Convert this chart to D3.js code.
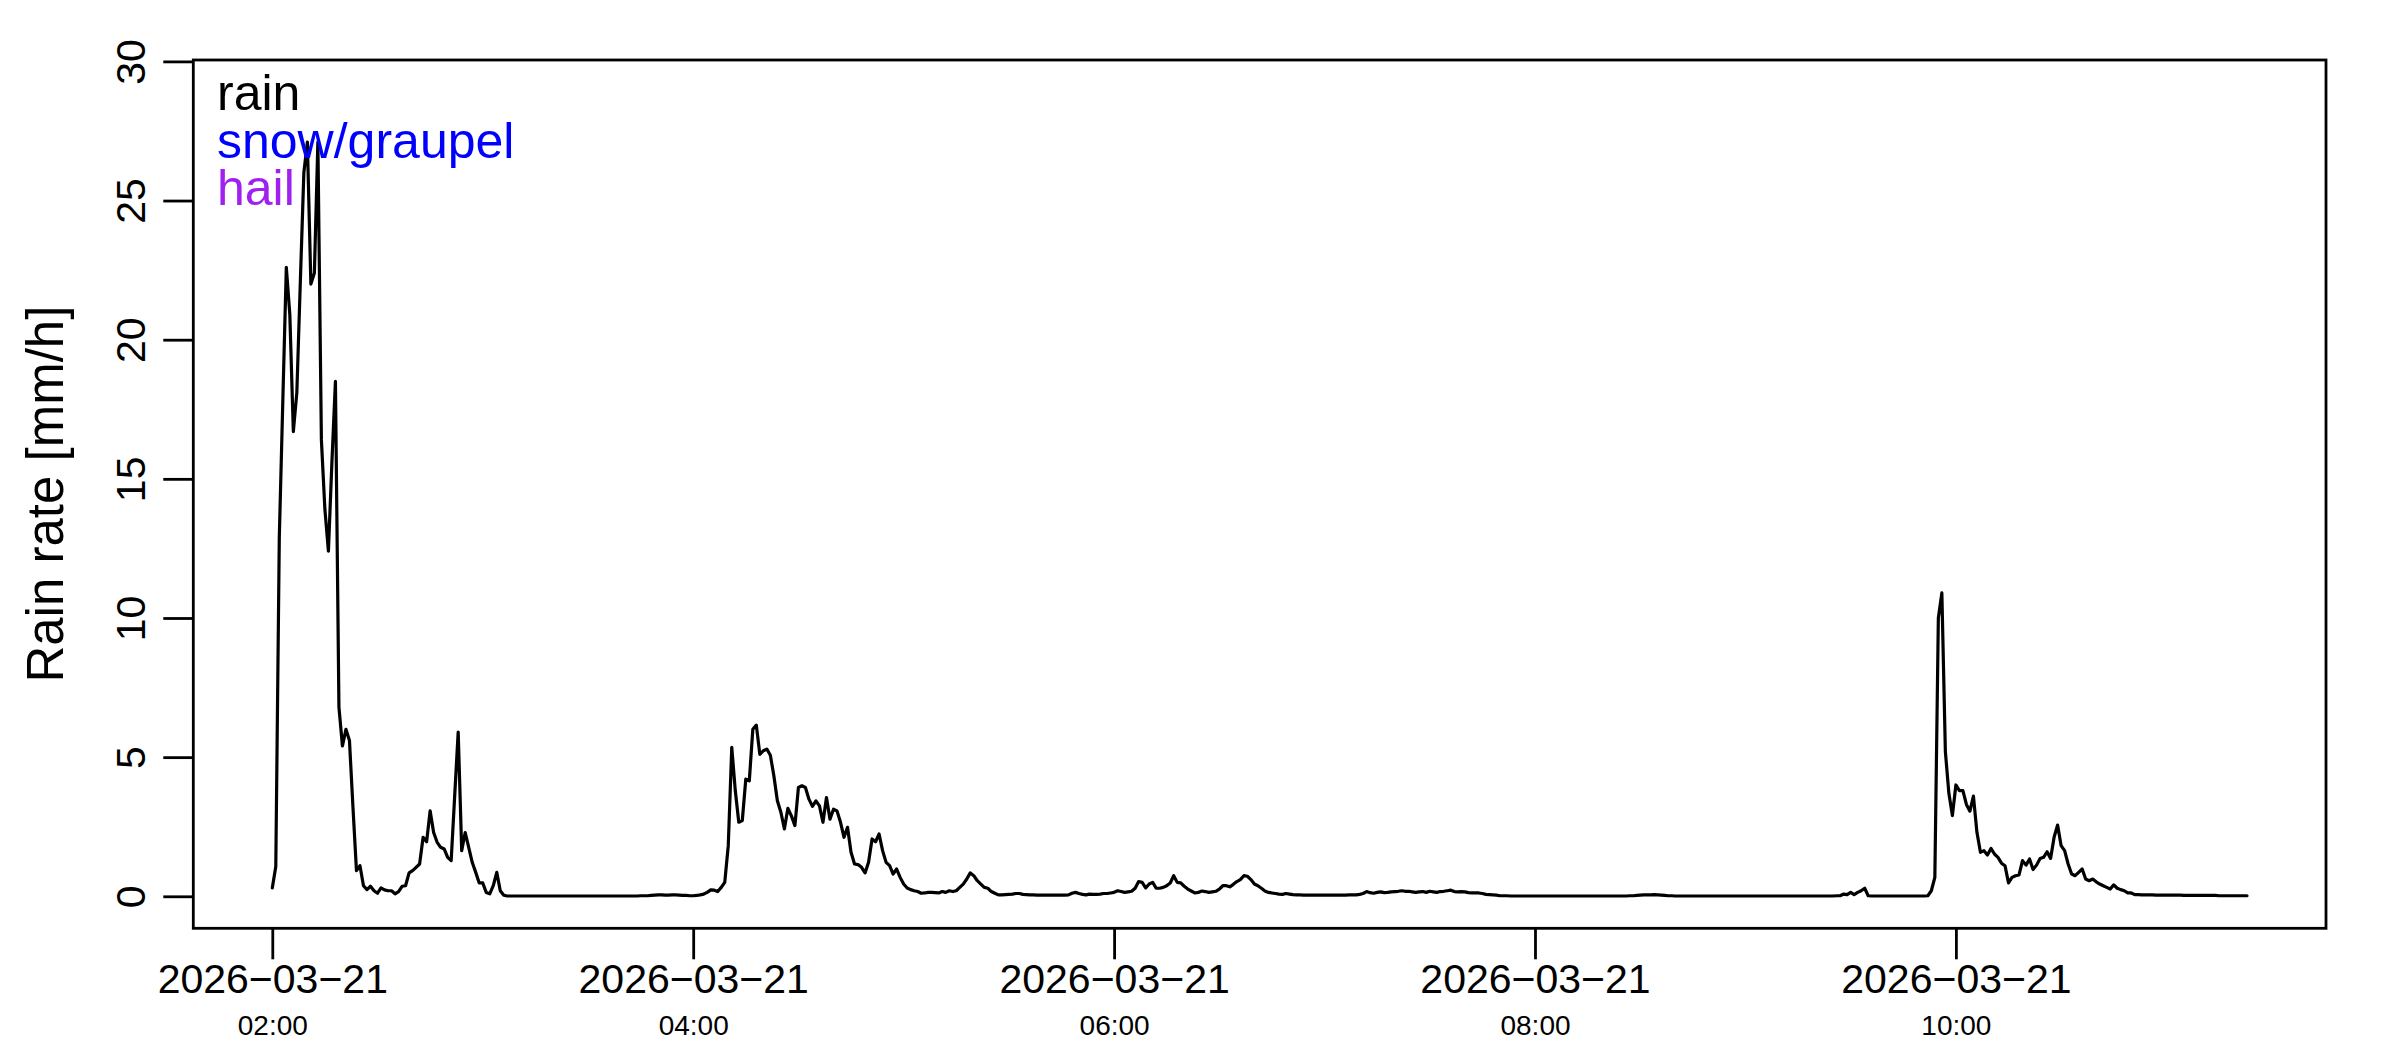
<!DOCTYPE html>
<html>
<head>
<meta charset="utf-8">
<script src="https://cdn.jsdelivr.net/npm/d3@7"></script>
<style>
  body { margin: 0; background: #fff; }
  svg { display: block; font-family: "Liberation Sans", Arial, Helvetica, sans-serif; }
</style>
</head>
<body>
<svg id="chart" width="2400" height="1050"></svg>
<script>
// one value per minute, starting 2026-03-21 02:00 (UTC)
const startTime = Date.UTC(2026, 2, 21, 2, 0);
const rainRate = [
  // 02:00
  0.3, 1.07, 12.9, 17.8, 22.6, 20.9, 16.7, 18.1, 22.1, 26.0,
  27.1, 22.0, 22.4, 27.1, 16.4, 13.9, 12.4, 15.6, 18.5, 6.8,
  5.4, 6.0, 5.6, 3.2, 0.92, 1.1, 0.38, 0.24, 0.36, 0.2,
  0.11, 0.3, 0.23, 0.2, 0.2, 0.09, 0.17, 0.36, 0.38, 0.84,
  0.92, 1.04, 1.16, 2.12, 1.96, 3.07, 2.29, 1.94, 1.76, 1.7,
  1.4, 1.28, 3.6, 5.9, 1.64, 2.29, 1.76, 1.22, 0.86, 0.48,
  // 03:00
  0.48, 0.14, 0.09, 0.38, 0.86, 0.2, 0.04, 0.01, 0.01, 0.01,
  0.01, 0.01, 0.01, 0.01, 0.01, 0.01, 0.01, 0.01, 0.01, 0.01,
  0.01, 0.01, 0.01, 0.01, 0.01, 0.01, 0.01, 0.01, 0.01, 0.01,
  0.01, 0.01, 0.01, 0.01, 0.01, 0.01, 0.01, 0.01, 0.01, 0.01,
  0.01, 0.01, 0.01, 0.01, 0.01, 0.02, 0.02, 0.02, 0.03, 0.04,
  0.05, 0.05, 0.04, 0.04, 0.05, 0.05, 0.04, 0.03, 0.03, 0.02,
  // 04:00
  0.02, 0.03, 0.05, 0.08, 0.14, 0.23, 0.22, 0.17, 0.32, 0.5,
  1.82, 5.35, 3.8, 2.66, 2.72, 4.21, 4.15, 6.0, 6.15, 5.1,
  5.23, 5.29, 5.07, 4.33, 3.43, 3.02, 2.42, 3.16, 2.89, 2.54,
  3.91, 3.97, 3.91, 3.49, 3.23, 3.43, 3.25, 2.66, 3.55, 2.77,
  3.13, 3.07, 2.66, 2.12, 2.48, 1.58, 1.16, 1.14, 1.04, 0.84,
  1.22, 2.06, 1.96, 2.24, 1.64, 1.22, 1.1, 0.8, 0.98, 0.68,
  // 05:00
  0.44, 0.3, 0.24, 0.2, 0.17, 0.11, 0.12, 0.14, 0.14, 0.13,
  0.12, 0.17, 0.14, 0.2, 0.17, 0.2, 0.32, 0.44, 0.62, 0.84,
  0.74, 0.56, 0.44, 0.32, 0.29, 0.17, 0.11, 0.05, 0.05, 0.06,
  0.07, 0.08, 0.1, 0.1, 0.07, 0.06, 0.05, 0.05, 0.04, 0.04,
  0.04, 0.04, 0.04, 0.04, 0.04, 0.04, 0.04, 0.05, 0.11, 0.14,
  0.1, 0.07, 0.05, 0.08, 0.07, 0.07, 0.08, 0.1, 0.1, 0.12,
  // 06:00
  0.14, 0.2, 0.17, 0.14, 0.16, 0.18, 0.29, 0.53, 0.5, 0.3,
  0.44, 0.5, 0.29, 0.29, 0.32, 0.38, 0.48, 0.74, 0.5, 0.48,
  0.36, 0.26, 0.19, 0.12, 0.14, 0.19, 0.17, 0.14, 0.16, 0.18,
  0.26, 0.38, 0.38, 0.34, 0.43, 0.53, 0.6, 0.74, 0.72, 0.6,
  0.44, 0.38, 0.29, 0.19, 0.14, 0.12, 0.1, 0.08, 0.07, 0.1,
  0.08, 0.06, 0.05, 0.05, 0.04, 0.04, 0.04, 0.04, 0.04, 0.04,
  // 07:00
  0.04, 0.04, 0.04, 0.04, 0.04, 0.04, 0.04, 0.05, 0.05, 0.05,
  0.07, 0.1, 0.17, 0.13, 0.11, 0.14, 0.16, 0.13, 0.14, 0.16,
  0.17, 0.18, 0.2, 0.18, 0.18, 0.16, 0.14, 0.16, 0.17, 0.14,
  0.18, 0.16, 0.14, 0.17, 0.18, 0.2, 0.22, 0.17, 0.16, 0.17,
  0.16, 0.13, 0.12, 0.12, 0.12, 0.1, 0.07, 0.06, 0.05, 0.04,
  0.02, 0.02, 0.02, 0.01, 0.01, 0.01, 0.01, 0.01, 0.01, 0.01,
  // 08:00
  0.01, 0.01, 0.01, 0.01, 0.01, 0.01, 0.01, 0.01, 0.01, 0.01,
  0.01, 0.01, 0.01, 0.01, 0.01, 0.01, 0.01, 0.01, 0.01, 0.01,
  0.01, 0.01, 0.01, 0.01, 0.01, 0.01, 0.01, 0.02, 0.02, 0.03,
  0.04, 0.05, 0.05, 0.05, 0.06, 0.05, 0.04, 0.03, 0.02, 0.02,
  0.01, 0.01, 0.01, 0.01, 0.01, 0.01, 0.01, 0.01, 0.01, 0.01,
  0.01, 0.01, 0.01, 0.01, 0.01, 0.01, 0.01, 0.01, 0.01, 0.01,
  // 09:00
  0.01, 0.01, 0.01, 0.01, 0.01, 0.01, 0.01, 0.01, 0.01, 0.01,
  0.01, 0.01, 0.01, 0.01, 0.01, 0.01, 0.01, 0.01, 0.01, 0.01,
  0.01, 0.01, 0.01, 0.01, 0.01, 0.01, 0.02, 0.02, 0.08, 0.06,
  0.14, 0.06, 0.14, 0.2, 0.29, 0.02, 0.01, 0.01, 0.01, 0.01,
  0.01, 0.01, 0.01, 0.01, 0.01, 0.01, 0.01, 0.01, 0.01, 0.01,
  0.01, 0.01, 0.02, 0.2, 0.68, 10.0, 10.9, 5.2, 3.7, 2.9,
  // 10:00
  4.0, 3.8, 3.8, 3.3, 3.06, 3.6, 2.3, 1.58, 1.64, 1.48,
  1.72, 1.52, 1.4, 1.19, 1.1, 0.48, 0.68, 0.74, 0.77, 1.28,
  1.12, 1.34, 0.96, 1.12, 1.36, 1.4, 1.6, 1.36, 2.12, 2.56,
  1.82, 1.64, 1.16, 0.8, 0.74, 0.86, 0.98, 0.62, 0.56, 0.62,
  0.52, 0.44, 0.38, 0.32, 0.26, 0.41, 0.29, 0.24, 0.2, 0.12,
  0.12, 0.06, 0.06, 0.05, 0.05, 0.05, 0.05, 0.04, 0.04, 0.04,
  // 11:00
  0.04, 0.04, 0.04, 0.04, 0.04, 0.03, 0.03, 0.03, 0.03, 0.03,
  0.03, 0.03, 0.03, 0.03, 0.03, 0.02, 0.02, 0.02, 0.02, 0.02,
  0.02, 0.02, 0.02, 0.02
];

const yTicks = [0, 5, 10, 15, 20, 25, 30];
const xTickHours = [2, 4, 6, 8, 10];
const xTickDates = ["2026\u221203\u221221", "2026\u221203\u221221", "2026\u221203\u221221", "2026\u221203\u221221", "2026\u221203\u221221"];
const xTickTimes = ["02:00", "04:00", "06:00", "08:00", "10:00"];
const legendLabels = ["rain", "snow/graupel", "hail"];
const legendColors = ["#000000", "#0000ff", "#a020f0"];
const yTitle = "Rain rate [mm/h]";

const plot = { left: 193.3, right: 2326, top: 60, bottom: 928.3 };
const lineWidth = 2.8;

const svg = d3.select("#chart");

const endTime = startTime + (rainRate.length - 1) * 60000;
const pad = 0.04 * (endTime - startTime);
const x = d3.scaleUtc()
    .domain([new Date(startTime - pad), new Date(endTime + pad)])
    .range([plot.left, plot.right]);
const y = d3.scaleLinear()
    .domain([-1.15, 30.05])
    .range([plot.bottom, plot.top]);

// series
const line = d3.line()
    .x((d, i) => x(new Date(startTime + i * 60000)))
    .y(d => y(d));
svg.append("path")
    .datum(rainRate)
    .attr("d", line)
    .attr("fill", "none")
    .attr("stroke", "#000")
    .attr("stroke-width", 3.2)
    .attr("stroke-linejoin", "round")
    .attr("stroke-linecap", "round");

// y axis, labels turned like R's las=0
const yAxis = svg.append("g")
    .attr("transform", `translate(${plot.left},0)`)
    .call(d3.axisLeft(y).tickValues(yTicks).tickSize(30).tickFormat(""));
yAxis.select(".domain").remove();
yAxis.selectAll(".tick line").attr("stroke", "#000").attr("stroke-width", lineWidth);
yAxis.selectAll(".tick").append("text")
    .attr("transform", "translate(-48,0) rotate(-90)")
    .attr("text-anchor", "middle")
    .attr("fill", "#000")
    .attr("font-size", 41)
    .text(d => d);

// x axis, two line labels
const tickDates = xTickHours.map(h => new Date(Date.UTC(2026, 2, 21, h, 0)));
const xAxis = svg.append("g")
    .attr("transform", `translate(0,${plot.bottom})`)
    .call(d3.axisBottom(x).tickValues(tickDates).tickSize(31).tickFormat(""));
xAxis.select(".domain").remove();
xAxis.selectAll(".tick line").attr("stroke", "#000").attr("stroke-width", lineWidth);
xAxis.selectAll(".tick").append("text")
    .attr("y", 65)
    .attr("text-anchor", "middle")
    .attr("fill", "#000")
    .attr("font-size", 41)
    .text((d, i) => xTickDates[i]);
xAxis.selectAll(".tick").append("text")
    .attr("y", 107)
    .attr("text-anchor", "middle")
    .attr("fill", "#000")
    .attr("font-size", 28)
    .text((d, i) => xTickTimes[i]);

// box
svg.append("rect")
    .attr("x", plot.left)
    .attr("y", plot.top)
    .attr("width", plot.right - plot.left)
    .attr("height", plot.bottom - plot.top)
    .attr("fill", "none")
    .attr("stroke", "#000")
    .attr("stroke-width", lineWidth);

// axis title
svg.append("text")
    .attr("transform", `translate(63,${(plot.top + plot.bottom) / 2}) rotate(-90)`)
    .attr("text-anchor", "middle")
    .attr("font-size", 51)
    .attr("fill", "#000")
    .text(yTitle);

// legend (text only, stacked tight as in the original)
svg.append("g")
    .selectAll("text")
    .data(legendLabels)
    .join("text")
    .attr("x", 217)
    .attr("y", (d, i) => 110 + i * 47.5)
    .attr("font-size", 50)
    .attr("fill", (d, i) => legendColors[i])
    .text(d => d);
</script>
</body>
</html>
